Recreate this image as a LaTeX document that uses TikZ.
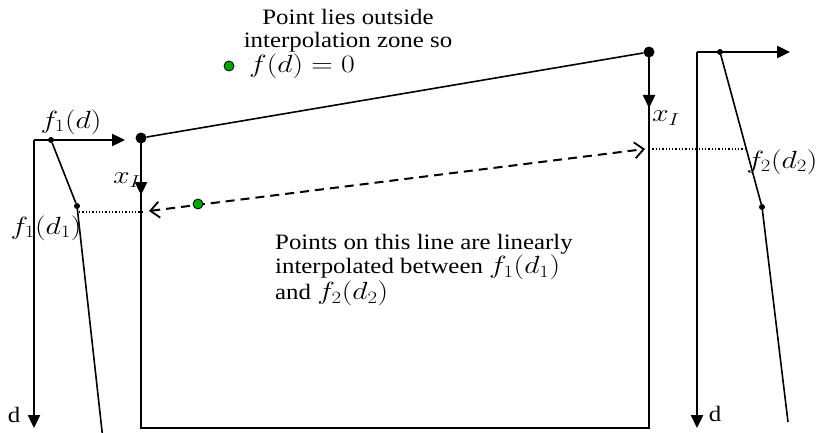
\documentclass[tikz,border=0pt]{standalone}
\usepackage{fontspec}
\setmainfont{Liberation Serif}
\newfontfamily\widetext[FakeStretch=1.13]{Liberation Serif}
\usetikzlibrary{arrows.meta}
\newcommand{\wm}[1]{\scalebox{1.2}[1]{\fontsize{25}{25}\selectfont$#1$}}
\tikzset{
  axis/.style={line width=2.4pt,-{Triangle[length=13pt,width=12pt]}},
  thin line/.style={line width=1.6pt},
  dotline/.style={line width=1.3pt,dotted},
  bigdot/.style={circle,fill=black,inner sep=0pt,minimum size=11pt},
  smalldot/.style={circle,fill=black,inner sep=0pt,minimum size=6pt},
  greendot/.style={circle,fill=green!65!black,draw=black,line width=0.8pt,inner sep=0pt,minimum size=10pt},
  lbl/.style={font=\fontsize{22}{23}\selectfont\widetext,inner sep=0pt},
}
\begin{document}
\begin{tikzpicture}[x=1pt,y=-1pt]
\useasboundingbox (0,0) rectangle (821,433);
% left axis
\coordinate (LO) at (34,140);
\coordinate (LX) at (125,140);
\coordinate (LY) at (34,428);
\draw[axis] (LO) -- (LX);
\draw[axis] (LO) -- (LY);
\node[lbl] (dL) at (14,415) {d};
\node[smalldot] (a1) at (51,140) {};
\node[smalldot] (a2) at (77,206) {};
\coordinate (a3) at (103,440);
\draw[thin line] (a1) -- (a2) -- (a3);
\node[lbl] (f1d) at (71,122) {\wm{f_1(d)}};
\node[lbl] (f1d1) at (46,228) {\wm{f_1(d_1)}};
% right axis
\coordinate (RO) at (697,52);
\coordinate (RX) at (790,52);
\coordinate (RY) at (697,428);
\draw[axis] (RO) -- (RX);
\draw[axis] (RO) -- (RY);
\node[lbl] (dR) at (715,414) {d};
\node[smalldot] (b1) at (720,52) {};
\node[smalldot] (b2) at (762,207) {};
\coordinate (b3) at (788,422);
\draw[thin line] (b1) -- (b2) -- (b3);
\node[lbl] (f2d2) at (782,162) {\wm{f_2(d_2)}};
% box
\node[bigdot] (P1) at (141,138) {};
\node[bigdot] (P2) at (649,52) {};
\coordinate (BL) at (141,428);
\coordinate (BR) at (649,428);
\draw[thin line] (P1) -- (P2);
\draw[thin line] (P1.center) -- (BL) -- (BR) -- (P2.center);
\coordinate (A1) at (141,195);
\coordinate (A2) at (649,108);
\draw[axis] (P1.center) -- (A1);
\draw[axis] (P2.center) -- (A2);
\node[lbl] (xI1) at (127,180) {\wm{x_I}};
\node[lbl] (xI2) at (666,118) {\wm{x_I}};
% dotted lines and dashed arrow
\coordinate (D0) at (79,212);
\coordinate (D1) at (143,212);
\coordinate (D2) at (649,149);
\coordinate (D3) at (747,149);
\draw[dotline] (D0) -- (D1);
\draw[dotline] (D2) -- (D3);
\coordinate (E1) at (149,211);
\coordinate (E2) at (645,149);
\draw[line width=2pt,dash pattern=on 9pt off 6pt,{Straight Barb[length=9pt,width=16pt,line width=1.8pt]}-{Straight Barb[length=9pt,width=16pt,line width=1.8pt]}] (E1) -- (E2);
\node[greendot] (g1) at (198,204) {};
\node[greendot] (g2) at (229,66) {};
% texts
\node[lbl,align=center] (t1) at (348,31) {Point lies outside\\interpolation zone so};
\node[lbl,anchor=west] (t1b) at (249,66) {\wm{f(d) = 0}};
\node[lbl,align=left,anchor=north west] (t2) at (275,234) {Points on this line are linearly\\interpolated between \wm{f_1(d_1)}\\and \wm{f_2(d_2)}};
\end{tikzpicture}
\end{document}
